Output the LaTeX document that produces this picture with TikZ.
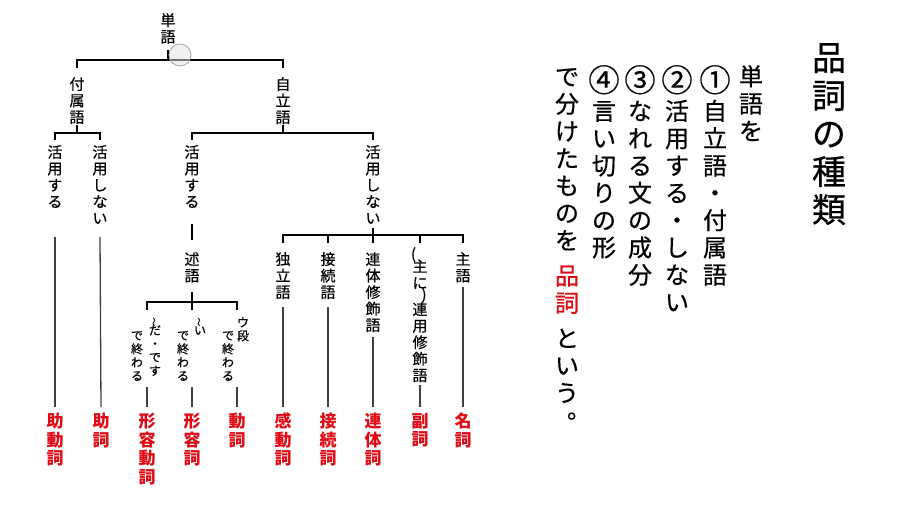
\documentclass[tikz,border=0pt]{standalone}
\usepackage{fontspec}
\usepackage{graphicx}
\newfontfamily\jp{Noto Sans CJK JP}[FakeBold=0.5]
\newfontfamily\jpr{Noto Sans CJK JP}
\definecolor{myred}{RGB}{225,10,20}
\newcommand\vwave{\makebox[0pt]{\raisebox{0pt}[6pt][0pt]{\rotatebox[origin=c]{90}{\fontsize{9}{9}\selectfont 〜}}}}
\newcommand\kuten{\makebox[1em][l]{\kern0.5em\rlap{\raisebox{0.45em}{。}}}}
\newcommand\circd[1]{\raisebox{-0.12em}{\scalebox{1.3}{#1}}}
\begin{document}
\begin{tikzpicture}[x=1pt,y=-1pt,
 lbl/.style={font=\jp\fontsize{15}{16.5}\selectfont, align=center, inner sep=0pt, anchor=north},
 sm/.style={font=\jp\fontsize{12}{13.5}\selectfont, align=center, inner sep=0pt, anchor=north},
 redlbl/.style={font=\jpr\bfseries\fontsize{17}{18.5}\selectfont, text=myred, align=center, inner sep=0pt, anchor=north},
 body/.style={font=\jp\fontsize{24}{27.3}\selectfont, align=center, inner sep=0pt, anchor=north},
 ttl/.style={font=\jp\fontsize{34}{38}\selectfont, align=center, inner sep=0pt, anchor=north},
 brk/.style={line width=2pt, black},
 con/.style={line width=1.3pt, black!75}]
\fill[white] (0,0) rectangle (900,506);
\useasboundingbox (0,0) rectangle (900,506);
% tree labels
\node[lbl] (tango) at (168,13) {単\\語};
\node[lbl] (fuzoku) at (77,77) {付\\属\\語};
\node[lbl] (jiritsu) at (283,77) {自\\立\\語};
\node[lbl] (katsuL) at (55,145) {活\\用\\す\\る};
\node[lbl] (katsuNL) at (100,145) {活\\用\\し\\な\\い};
\node[lbl] (katsuM) at (192,145) {活\\用\\す\\る};
\node[lbl] (katsuNR) at (373,145) {活\\用\\し\\な\\い};
\node[lbl] (jutsugo) at (192,252) {述\\語};
\node[lbl] (dokuritsu) at (283,252) {独\\立\\語};
\node[lbl] (setsuzoku) at (328,252) {接\\続\\語};
\node[lbl] (rentai) at (373,252) {連\\体\\修\\飾\\語};
\node[lbl] (renyou) at (420,247) {\makebox[0pt][r]{(\kern4pt}\\[-4pt]主\\に\\[-5pt]\makebox[0pt][l]{\kern1.5pt)}\\[-1.5pt]連\\用\\修\\飾\\語};
\node[lbl] (shugo) at (463,252) {主\\語};
% small columns
\node[sm] (daL) at (137,331) {で\\終\\わ\\る};
\node[sm] (daR) at (155,318) {\vwave\\[-3pt]だ\\・\\で\\す};
\node[sm] (iL) at (183,331) {で\\終\\わ\\る};
\node[sm] (iR) at (200,318) {\vwave\\[-3pt]い};
\node[sm] (uL) at (228,331) {で\\終\\わ\\る};
\node[sm] (uR) at (243,317) {ウ\\段};
% red labels
\node[redlbl] (jodoushi) at (55,413) {助\\動\\詞};
\node[redlbl] (joshi) at (101,413) {助\\詞};
\node[redlbl] (keiyoudoushi) at (147,413) {形\\容\\動\\詞};
\node[redlbl] (keiyoushi) at (192,413) {形\\容\\詞};
\node[redlbl] (doushi) at (237,413) {動\\詞};
\node[redlbl] (kandoushi) at (283,413) {感\\動\\詞};
\node[redlbl] (setsuzokushi) at (328,413) {接\\続\\詞};
\node[redlbl] (rentaishi) at (373,413) {連\\体\\詞};
\node[redlbl] (fukushi) at (420,413) {副\\詞};
\node[redlbl] (meishi) at (463,413) {名\\詞};
% brackets
\coordinate (j1) at (tango.south |- 0,60);
\draw[brk] (tango.south |- 0,50) -- (j1);
\draw[brk] (fuzoku.north |- 0,68) |- (j1) -| (jiritsu.north |- 0,68);
\coordinate (j2) at (fuzoku.south |- 0,133);
\draw[brk] (fuzoku.south |- 0,125) -- (j2);
\draw[brk] (katsuL.north |- 0,140) |- (j2) -| (katsuNL.north |- 0,140);
\coordinate (j3) at (jiritsu.south |- 0,133);
\draw[brk] (jiritsu.south |- 0,125) -- (j3);
\draw[brk] (katsuM.north |- 0,140) |- (j3) -| (katsuNR.north |- 0,140);
\draw[brk] (katsuM.south |- 0,224) -- (jutsugo.north |- 0,240);
\coordinate (j4) at (katsuNR.south |- 0,235);
\draw[brk] (katsuNR.south |- 0,228) -- (j4);
\draw[brk] (dokuritsu.north |- 0,243) |- (j4) -| (shugo.north |- 0,243);
\draw[brk] (setsuzoku.north |- 0,243) -- (setsuzoku.north |- j4);
\draw[brk] (rentai.north |- 0,243) -- (j4);
\draw[brk] (renyou.north |- 0,243) -- (renyou.north |- j4);
\coordinate (j5) at (jutsugo.south |- 0,302);
\draw[brk] (jutsugo.south |- 0,292) -- (j5);
\draw[brk] (keiyoudoushi.north |- 0,310) |- (j5) -| (doushi.north |- 0,310);
\draw[brk] (j5) -- (keiyoushi.north |- 0,310);
% long connectors
\draw[con] (katsuL.south |- 0,237) -- (jodoushi.north |- 0,407);
\draw[con] (katsuNL.south |- 0,237) -- (joshi.north |- 0,407);
\draw[con] (keiyoudoushi.north |- 0,387) -- (keiyoudoushi.north |- 0,407);
\draw[con] (keiyoushi.north |- 0,387) -- (keiyoushi.north |- 0,407);
\draw[con] (doushi.north |- 0,387) -- (doushi.north |- 0,407);
\draw[con] (dokuritsu.south |- 0,307) -- (kandoushi.north |- 0,407);
\draw[con] (setsuzoku.south |- 0,307) -- (setsuzokushi.north |- 0,407);
\draw[con] (rentai.south |- 0,337) -- (rentaishi.north |- 0,407);
\draw[con] (renyou.south |- 0,385) -- (fukushi.north |- 0,407);
\draw[con] (shugo.south |- 0,287) -- (meishi.north |- 0,407);
% cursor circle
\node[circle, minimum size=22pt, inner sep=0pt, draw=black!35, line width=0.8pt, fill=black!10, fill opacity=0.5] (cursor) at (180,55) {};
% right text
\node[ttl] (title) at (829,43) {品\\詞\\の\\種\\類};
\node[body] (c1) at (751,65) {単\\語\\を};
\node[body] (c2) at (715,65) {\circd{①}\\[4pt]自\\立\\語\\・\\付\\属\\語};
\node[body] (c3) at (677,65) {\circd{②}\\[4pt]活\\用\\す\\る\\・\\し\\な\\い};
\node[body] (c4) at (640,65) {\circd{③}\\[4pt]な\\れ\\る\\文\\の\\成\\分};
\node[body] (c5) at (604,65) {\circd{④}\\[4pt]言\\い\\切\\り\\の\\形};
\node[body] (c6) at (567,68) {で\\分\\け\\た\\も\\の\\を\\[8pt]\textcolor{myred}{品}\\\textcolor{myred}{詞}\\[8pt]と\\い\\う\\\kuten};
\end{tikzpicture}
\end{document}
